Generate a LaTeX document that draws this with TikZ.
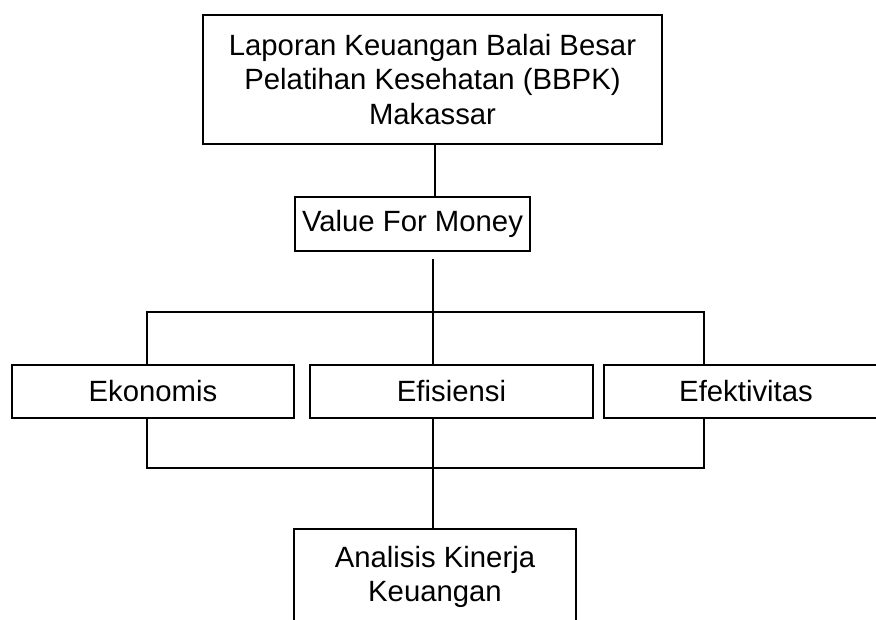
\documentclass[tikz,border=0pt]{standalone}
\usepackage{fontspec}
\setmainfont{Liberation Sans}
\begin{document}
\begin{tikzpicture}[x=1pt,y=1pt,
  box/.style={draw=black,line width=1.6pt,rectangle,inner sep=0pt,align=center,
    font=\fontsize{29.3}{34.5}\selectfont},
  conn/.style={draw=black,line width=1.6pt}]
\clip (0,0) rectangle (876,619);
\fill[white] (0,0) rectangle (876,619);
% nodes
\node[box,minimum width=459,minimum height=129] (top) at (432.5,539.5)
  {Laporan Keuangan Balai Besar\\Pelatihan Kesehatan (BBPK)\\Makassar};
\node[box,minimum width=235,minimum height=54] (vfm) at (412.5,395) {Value For Money};
\node[box,minimum width=282,minimum height=53] (eko) at (153,227.5) {Ekonomis};
\node[box,minimum width=283,minimum height=53] (efi) at (451.5,227.5) {Efisiensi};
\node[box,minimum width=284,minimum height=53] (efk) at (746,227.5) {Efektivitas};
\node[box,minimum width=282,minimum height=96] (ana) at (435,42) {Analisis Kinerja\\Keuangan};
% helper coordinates
\coordinate (c1) at (435,0);
\coordinate (cm) at (433,0);
\coordinate (cl) at (147,0);
\coordinate (cr) at (704,0);
\coordinate (vfmend) at (433,360);
\coordinate (busT) at (0,307);
\coordinate (busB) at (0,151);
% connectors
\draw[conn] (top.south -| c1) -- (vfm.north -| c1);
\draw[conn] (vfmend) -- (efi.north -| cm);
\draw[conn] (eko.north -| cl) -- (busT -| cl) -- (busT -| cr) -- (efk.north -| cr);
\draw[conn] (eko.south -| cl) -- (busB -| cl) -- (busB -| cr) -- (efk.south -| cr);
\draw[conn] (efi.south -| cm) -- (ana.north -| cm);
\end{tikzpicture}
\end{document}
